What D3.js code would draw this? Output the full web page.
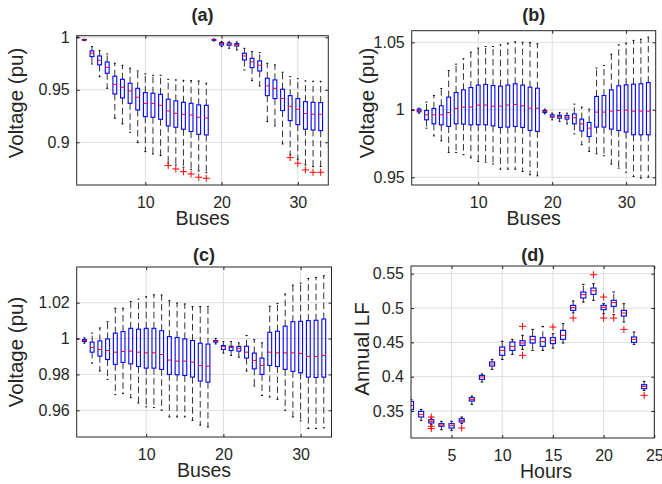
<!DOCTYPE html>
<html>
<head>
<meta charset="utf-8">
<script src="https://cdn.jsdelivr.net/npm/d3@7"></script>
<style>
  body { margin: 0; background: #fff; }
  svg { display: block; }
  text { font-family: 'Liberation Sans', Arial, sans-serif; fill: #262626; }
</style>
</head>
<body>
<svg id="chart" width="662" height="484"></svg>
<script>
'use strict'

const buses = d3.range(1, 34)
const hours = d3.range(1, 25)

// (a) bus voltages
const aLow = [1, 0.9968, 0.9746, 0.9625, 0.9514, 0.9229, 0.9175, 0.9095, 0.8997, 0.8911, 0.8889, 0.8873, 0.88, 0.8784, 0.8762, 0.8743, 0.8727, 0.8711,
  0.9965, 0.9911, 0.9895, 0.9879, 0.9689, 0.9587, 0.9537, 0.9197, 0.9156, 0.8984, 0.8879, 0.8838, 0.8784, 0.8768, 0.8768]
const aQ1 = [1, 0.9972, 0.9816, 0.9737, 0.9657, 0.946, 0.9422, 0.9371, 0.9308, 0.9244, 0.9238, 0.9219, 0.9156, 0.9143, 0.9124, 0.9102, 0.9076, 0.907,
  0.9971, 0.9927, 0.9924, 0.9917, 0.9784, 0.9711, 0.9679, 0.9444, 0.9416, 0.9302, 0.9206, 0.9168, 0.9124, 0.9117, 0.9111]
const aMed = [1, 0.9975, 0.9848, 0.9781, 0.9714, 0.9552, 0.9524, 0.9489, 0.9429, 0.9371, 0.9371, 0.9352, 0.9298, 0.9276, 0.9267, 0.926, 0.9238, 0.9232,
  0.9975, 0.994, 0.9937, 0.993, 0.9822, 0.9765, 0.9733, 0.9537, 0.9514, 0.9416, 0.9343, 0.9314, 0.9273, 0.9267, 0.9267]
const aQ3 = [1, 0.9978, 0.987, 0.9822, 0.9765, 0.9629, 0.96, 0.9562, 0.9514, 0.9473, 0.9467, 0.9457, 0.941, 0.9394, 0.9381, 0.9371, 0.9356, 0.9352,
  0.9979, 0.9949, 0.9946, 0.994, 0.9848, 0.98, 0.9775, 0.961, 0.9594, 0.9505, 0.9444, 0.9416, 0.9387, 0.9381, 0.9378]
const aHigh = [1, 0.9982, 0.9911, 0.9873, 0.9841, 0.9752, 0.9733, 0.9705, 0.9679, 0.9651, 0.9638, 0.9638, 0.96, 0.9594, 0.959, 0.9587, 0.9584, 0.9562,
  0.9983, 0.9959, 0.9956, 0.9956, 0.9895, 0.9863, 0.9854, 0.9752, 0.9737, 0.9667, 0.9625, 0.9606, 0.9584, 0.9581, 0.9581]
const aOut = [[13, 0.8778], [14, 0.8746], [15, 0.872], [16, 0.8698], [17, 0.8667], [18, 0.8657],
  [29, 0.8854], [30, 0.88], [31, 0.8737], [32, 0.8714], [33, 0.8714]]

// (b) bus voltages
const bLow = [1, 0.9975, 0.9864, 0.9807, 0.977, 0.9684, 0.9684, 0.9667, 0.9644, 0.9617, 0.9612, 0.9598, 0.956, 0.956, 0.956, 0.9543, 0.9519, 0.9511,
  0.997, 0.9926, 0.9914, 0.9896, 0.9822, 0.9741, 0.9691, 0.9674, 0.9659, 0.9598, 0.9568, 0.9538, 0.9506, 0.9494, 0.9501]
const bQ1 = [1, 0.9985, 0.9926, 0.9896, 0.9889, 0.9877, 0.9896, 0.9894, 0.9889, 0.9889, 0.9889, 0.9881, 0.9869, 0.9872, 0.9877, 0.9869, 0.9847, 0.984,
  0.998, 0.9946, 0.9938, 0.9931, 0.9896, 0.9844, 0.9802, 0.9872, 0.9872, 0.9857, 0.9847, 0.9835, 0.9815, 0.9815, 0.9815]
const bMed = [1, 0.9995, 0.9963, 0.9963, 0.9963, 0.998, 1.001, 1.002, 1.002, 1.0035, 1.0035, 1.0027, 1.0027, 1.0035, 1.004, 1.003, 1.0012, 1.0012,
  0.9988, 0.9953, 0.9951, 0.9946, 0.9941, 0.9896, 0.9864, 0.9983, 0.9983, 0.999, 0.9995, 0.9998, 0.999, 0.999, 0.999]
const bQ3 = [1, 1.0005, 0.9995, 1.001, 1.003, 1.0094, 1.0128, 1.0148, 1.0165, 1.0183, 1.0188, 1.018, 1.0175, 1.0183, 1.0193, 1.0183, 1.0168, 1.016,
  0.9995, 0.9963, 0.996, 0.9958, 0.997, 0.9931, 0.9906, 1.0099, 1.0106, 1.0148, 1.0178, 1.0185, 1.019, 1.0193, 1.0202]
const bHigh = [1, 1.0012, 1.0057, 1.0106, 1.0158, 1.0291, 1.0338, 1.0378, 1.0427, 1.0457, 1.0469, 1.0469, 1.0481, 1.0494, 1.0504, 1.0501, 1.0499, 1.0489,
  1.0005, 0.9975, 0.998, 0.9975, 1.0042, 1.002, 1.0005, 1.0309, 1.0328, 1.0412, 1.0481, 1.0494, 1.0514, 1.0523, 1.0538]

// (c) bus voltages
const cLow = [1, 0.9974, 0.9863, 0.9819, 0.9772, 0.9687, 0.9693, 0.967, 0.9641, 0.9619, 0.9615, 0.96, 0.9563, 0.9563, 0.9563, 0.9544, 0.9517, 0.9507,
  0.997, 0.9919, 0.9906, 0.9896, 0.9819, 0.9735, 0.9683, 0.9674, 0.9661, 0.96, 0.9563, 0.9541, 0.9498, 0.9498, 0.9502]
const cQ1 = [1, 0.9983, 0.9924, 0.9902, 0.9883, 0.9856, 0.9867, 0.9859, 0.9844, 0.9835, 0.9835, 0.9828, 0.98, 0.9798, 0.9794, 0.9785, 0.9763, 0.9757,
  0.998, 0.9939, 0.9933, 0.993, 0.9891, 0.9831, 0.98, 0.985, 0.9844, 0.9828, 0.9817, 0.9809, 0.9785, 0.9783, 0.9785]
const cMed = [1, 0.9989, 0.995, 0.9939, 0.9933, 0.9924, 0.9928, 0.993, 0.9924, 0.992, 0.992, 0.9911, 0.988, 0.9874, 0.9874, 0.9869, 0.985, 0.9846,
  0.9985, 0.9956, 0.995, 0.9946, 0.9924, 0.9878, 0.985, 0.9924, 0.992, 0.992, 0.992, 0.9917, 0.99, 0.99, 0.9906]
const cQ3 = [1, 0.9994, 0.998, 0.9987, 0.9998, 1.003, 1.0039, 1.0057, 1.0052, 1.0057, 1.0057, 1.0044, 1.0011, 1.0006, 0.9998, 0.9989, 0.9974, 0.9969,
  0.9989, 0.9961, 0.9957, 0.9956, 0.9957, 0.9919, 0.9891, 1.0035, 1.0041, 1.0069, 1.0094, 1.0096, 1.01, 1.0102, 1.0109]
const cHigh = [1, 1.0004, 1.003, 1.0059, 1.0094, 1.0169, 1.0169, 1.0207, 1.022, 1.0233, 1.0244, 1.0243, 1.0211, 1.0198, 1.0193, 1.0178, 1.0178, 1.0178,
  1.0, 0.9983, 0.9983, 0.9976, 1.0017, 0.9994, 0.9976, 1.018, 1.0196, 1.0248, 1.0298, 1.0309, 1.0335, 1.0341, 1.035]

// (d) annual load factor per hour
const dLow = [0.349, 0.3364, 0.3301, 0.3228, 0.3218, 0.3316, 0.3597, 0.3922, 0.4107, 0.4252, 0.4325, 0.4398,
  0.4383, 0.4383, 0.4417, 0.449, 0.4927, 0.5087, 0.5112, 0.4917, 0.4903, 0.4796, 0.4471, 0.3801]
const dQ1 = [0.352, 0.3413, 0.3325, 0.3277, 0.3252, 0.334, 0.3646, 0.3961, 0.4155, 0.4311, 0.4383, 0.4456,
  0.449, 0.4442, 0.4481, 0.4544, 0.4966, 0.5146, 0.5199, 0.4976, 0.5024, 0.4883, 0.45, 0.3825]
const dMed = [0.358, 0.3451, 0.335, 0.3296, 0.3286, 0.3364, 0.367, 0.3995, 0.4184, 0.4383, 0.4442, 0.449,
  0.4539, 0.451, 0.4529, 0.4602, 0.5005, 0.5194, 0.5252, 0.501, 0.5078, 0.4927, 0.4544, 0.3859]
const dQ3 = [0.364, 0.3495, 0.3374, 0.3316, 0.3316, 0.3388, 0.3694, 0.4019, 0.4214, 0.4432, 0.4505, 0.4524,
  0.4587, 0.4568, 0.4568, 0.4675, 0.5039, 0.5233, 0.5291, 0.5039, 0.5112, 0.4966, 0.4578, 0.3883]
const dHigh = [0.367, 0.3524, 0.3398, 0.335, 0.335, 0.3413, 0.3718, 0.4039, 0.4252, 0.4515, 0.4544, 0.4602,
  0.4689, 0.4733, 0.4626, 0.4772, 0.5102, 0.5345, 0.5354, 0.5063, 0.5233, 0.5063, 0.465, 0.3932]
const dOut = [[3, 0.3413], [3, 0.3277], [3, 0.3243], [6, 0.3252], [12, 0.4733], [12, 0.4311], [15, 0.4723],
  [17, 0.4854], [19, 0.5485], [20, 0.516], [20, 0.4854], [21, 0.4854], [22, 0.4689], [24, 0.3728]]

const panels = [
  {id: 'a', title: '(a)', cats: buses, low: aLow, q1: aQ1, med: aMed, q3: aQ3, high: aHigh, out: aOut,
    box: [76.7, 328.3, 35.7, 185], xDomain: [1, 34], yDomain: [0.8593, 1.0015],
    xTicks: [10, 20, 30], yTicks: [0.9, 0.95, 1], xLabel: 'Buses', yLabel: 'Voltage (pu)',
    xLabelX: 202.5, yLabelX: 22.5, yLabelY: 103, titleY: 21},
  {id: 'b', title: '(b)', cats: buses, low: bLow, q1: bQ1, med: bMed, q3: bQ3, high: bHigh, out: [],
    box: [411.7, 655.7, 30.7, 185], xDomain: [1, 34], yDomain: [0.9443, 1.0586],
    xTicks: [10, 20, 30], yTicks: [0.95, 1, 1.05], xLabel: 'Buses', yLabel: 'Voltage (pu)',
    xLabelX: 533.7, yLabelX: 373.5, yLabelY: 103, titleY: 21},
  {id: 'c', title: '(c)', cats: buses, low: cLow, q1: cQ1, med: cMed, q3: cQ3, high: cHigh, out: [],
    box: [76.7, 331.5, 267, 437], xDomain: [1, 34], yDomain: [0.9451, 1.0399],
    xTicks: [10, 20, 30], yTicks: [0.96, 0.98, 1, 1.02], xLabel: 'Buses', yLabel: 'Voltage (pu)',
    xLabelX: 204, yLabelX: 22.5, yLabelY: 352, titleY: 261},
  {id: 'd', title: '(d)', cats: hours, low: dLow, q1: dQ1, med: dMed, q3: dQ3, high: dHigh, out: dOut,
    box: [411, 654.3, 266, 438], xDomain: [1, 25], yDomain: [0.3107, 0.5612],
    xTicks: [5, 10, 15, 20, 25], yTicks: [0.35, 0.4, 0.45, 0.5, 0.55], xLabel: 'Hours', yLabel: 'Annual LF',
    xLabelX: 546, yLabelX: 369, yLabelY: 349, titleY: 261}
]

const svg = d3.select('#chart')
const axisColor = '#262626'
const gridColor = '#dedede'
const fmt = d => String(+d.toFixed(3))

panels.forEach(p => {
  const [left, right, top, bottom] = p.box
  const x = d3.scaleLinear().domain(p.xDomain).range([left, right])
  const y = d3.scaleLinear().domain(p.yDomain).range([bottom, top])
  const g = svg.append('g')

  // grid
  g.selectAll('.gx').data(p.xTicks).join('line')
    .attr('x1', d => x(d)).attr('x2', d => x(d))
    .attr('y1', top).attr('y2', bottom)
    .attr('stroke', gridColor)
  g.selectAll('.gy').data(p.yTicks).join('line')
    .attr('x1', left).attr('x2', right)
    .attr('y1', d => y(d)).attr('y2', d => y(d))
    .attr('stroke', gridColor)

  svg.append('clipPath').attr('id', 'clip-' + p.id)
    .append('rect').attr('x', left).attr('y', top)
    .attr('width', right - left).attr('height', bottom - top)

  const marks = g.append('g').attr('clip-path', `url(#clip-${p.id})`)
  const bw = x(p.xDomain[0] + 0.5) - x(p.xDomain[0])

  const rows = p.cats.map((c, i) => ({c, low: p.low[i], q1: p.q1[i], med: p.med[i], q3: p.q3[i], high: p.high[i]}))
  const item = marks.selectAll('g.item').data(rows).join('g')

  // whiskers
  item.append('line')
    .attr('x1', d => x(d.c)).attr('x2', d => x(d.c))
    .attr('y1', d => y(d.q3)).attr('y2', d => y(d.high))
    .attr('stroke', '#333').attr('stroke-dasharray', '6.5,3.5')
  item.append('line')
    .attr('x1', d => x(d.c)).attr('x2', d => x(d.c))
    .attr('y1', d => y(d.q1)).attr('y2', d => y(d.low))
    .attr('stroke', '#333').attr('stroke-dasharray', '6.5,3.5')
  // whisker caps
  ;['high', 'low'].forEach(k => {
    item.append('line')
      .attr('x1', d => x(d.c) - bw / 4).attr('x2', d => x(d.c) + bw / 4)
      .attr('y1', d => y(d[k])).attr('y2', d => y(d[k]))
      .attr('stroke', '#000')
  })
  // boxes
  item.append('rect')
    .attr('x', d => x(d.c) - bw / 2).attr('width', bw)
    .attr('y', d => y(d.q3)).attr('height', d => Math.max(0.5, y(d.q1) - y(d.q3)))
    .attr('fill', 'none').attr('stroke', '#0000ff').attr('stroke-width', 1.1)
  // medians
  item.append('line')
    .attr('x1', d => x(d.c) - bw / 2).attr('x2', d => x(d.c) + bw / 2)
    .attr('y1', d => y(d.med)).attr('y2', d => y(d.med))
    .attr('stroke', '#ff0000')

  // outliers
  const s = 3.5
  marks.selectAll('path.out').data(p.out).join('path')
    .attr('d', d => `M${x(d[0]) - s},${y(d[1])}h${2 * s}M${x(d[0])},${y(d[1]) - s}v${2 * s}`)
    .attr('stroke', '#ff0000').attr('fill', 'none')

  // axes with inward ticks on all sides
  const styleAxis = (axis, labels) => sel => {
    sel.call(axis)
    sel.select('.domain').remove()
    sel.selectAll('line').attr('stroke', axisColor)
    sel.selectAll('text').attr('fill', axisColor).style('font-size', '16px')
      .style('font-family', "'Liberation Sans', Arial, sans-serif")
    if (!labels) sel.selectAll('text').remove()
  }
  g.append('g').attr('transform', `translate(0,${bottom})`)
    .call(styleAxis(d3.axisBottom(x).tickValues(p.xTicks).tickFormat(fmt).tickSize(-3).tickPadding(12), true))
  g.append('g').attr('transform', `translate(0,${top})`)
    .call(styleAxis(d3.axisTop(x).tickValues(p.xTicks).tickSize(-3), false))
  g.append('g').attr('transform', `translate(${left},0)`)
    .call(styleAxis(d3.axisLeft(y).tickValues(p.yTicks).tickFormat(fmt).tickSize(-3).tickPadding(7), true))
  g.append('g').attr('transform', `translate(${right},0)`)
    .call(styleAxis(d3.axisRight(y).tickValues(p.yTicks).tickSize(-3), false))

  g.append('rect')
    .attr('x', left).attr('y', top)
    .attr('width', right - left).attr('height', bottom - top)
    .attr('fill', 'none').attr('stroke', axisColor)

  // title and labels
  g.append('text')
    .attr('x', (left + right) / 2).attr('y', p.titleY)
    .attr('text-anchor', 'middle').style('font-size', '18px').style('font-weight', 'bold')
    .text(p.title)
  g.append('text')
    .attr('x', p.xLabelX).attr('y', bottom + 40)
    .attr('text-anchor', 'middle').style('font-size', '19.5px')
    .text(p.xLabel)
  g.append('text')
    .attr('transform', `translate(${p.yLabelX},${p.yLabelY}) rotate(-90)`)
    .attr('text-anchor', 'middle').style('font-size', '20.5px')
    .text(p.yLabel)
})
</script>
</body>
</html>
